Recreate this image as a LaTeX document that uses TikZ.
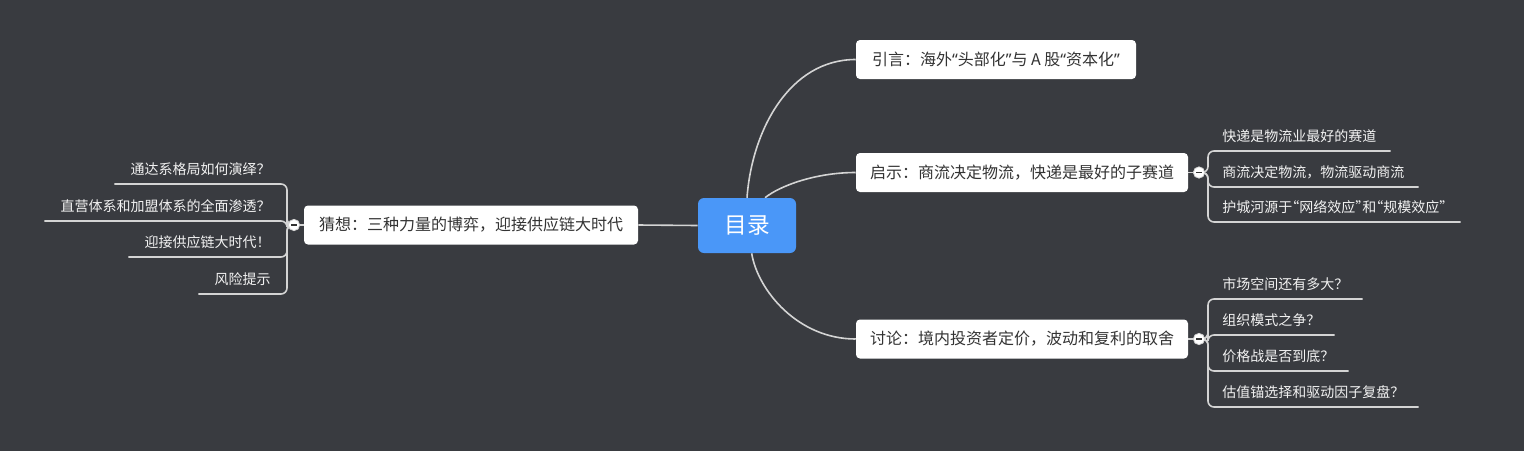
\documentclass[tikz,border=0pt]{standalone}
\usepackage{fontspec}
\setmainfont{Noto Sans CJK SC}
\newfontfamily\latq{Noto Sans}
\usetikzlibrary{backgrounds}
\definecolor{bgc}{HTML}{393B40}
\definecolor{rootblue}{HTML}{4A97F8}
\definecolor{linec}{HTML}{D4D4D4}
\definecolor{maintext}{HTML}{333333}
\definecolor{subtext}{HTML}{F2F2F2}
\newcommand{\cjklq}{\kern-5.25pt “}
\newcommand{\cjkrq}{”\kern-5.25pt }
\begin{document}
\begin{tikzpicture}[x=0.75pt,y=-0.75pt,
 branch/.style={draw=linec, line width=1.2pt, rounded corners=4.5pt},
 rootnode/.style={fill=rootblue, rounded corners=4.5pt, minimum width=73.5pt, minimum height=41.25pt, inner sep=0pt, text=white, font=\fontsize{17}{20}\selectfont},
 mainnode/.style={fill=white, rounded corners=3pt, minimum height=29.25pt, inner sep=0pt, text=maintext, font=\fontsize{12}{14}\selectfont, text height=10pt, text depth=1.5pt},
 subR/.style={anchor=south west, inner xsep=10.5pt, inner ysep=0pt, minimum height=21pt, text=subtext, font=\fontsize{10.5}{12}\selectfont, text height=8.8pt, text depth=1.2pt},
 subL/.style={subR, anchor=south east, inner xsep=12pt},
 fold/.style={circle, fill=white, draw=linec, line width=0.6pt, minimum size=8.5pt, inner sep=0pt, path picture={\draw[maintext, line width=1pt] ([xshift=-2.2pt]path picture bounding box.center) -- ([xshift=2.2pt]path picture bounding box.center);}}
]
\useasboundingbox (0,0) rectangle (1524,451);
% main nodes
\node[rootnode] (root) at (747,225.5) {目录};
\node[mainnode, minimum width=210pt] (n1) at (996,59.5) {引言：海外{\latq “}头部化{\latq ”}与 A 股{\latq “}资本化{\latq ”}};
\node[mainnode, minimum width=249pt] (n2) at (1022,172.5) {启示：商流决定物流，快递是最好的子赛道};
\node[mainnode, minimum width=249pt] (n3) at (1022,339) {讨论：境内投资者定价，波动和复利的取舍};
\node[mainnode, minimum width=250.5pt] (n4) at (471,225) {猜想：三种力量的博弈，迎接供应链大时代};
% fold markers
\node[fold] (f2) at (1199,172.5) {};
\node[fold] (f3) at (1199,339) {};
\node[fold] (f4) at (294,225) {};
% children
\node[subR] (a1) at (1208,151) {快递是物流业最好的赛道};
\node[subR] (a2) at (1208,187) {商流决定物流，物流驱动商流};
\node[subR] (a3) at (1208,222) {护城河源于\cjklq 网络效应\cjkrq 和\cjklq 规模效应\cjkrq};
\node[subR] (b1) at (1208,299) {市场空间还有多大？};
\node[subR] (b2) at (1208,335) {组织模式之争？};
\node[subR] (b3) at (1208,371) {价格战是否到底？};
\node[subR] (b4) at (1208,407) {估值锚选择和驱动因子复盘？};
\node[subL] (c1) at (287,184) {通达系格局如何演绎？};
\node[subL] (c2) at (287,221) {直营体系和加盟体系的全面渗透？};
\node[subL] (c3) at (287,257) {迎接供应链大时代！};
\node[subL] (c4) at (287,294) {风险提示};
\begin{scope}[on background layer]
\fill[bgc] (0,0) rectangle (1524,451);
\draw[branch] (root.west) -- (n4.east);
\draw[branch] (root.north) .. controls +(5,-68) and +(-66,0) .. (n1.west);
\draw[branch] ([xshift=13.5pt]root.north) .. controls +(15,-12) and +(-40,0) .. (n2.west);
\draw[branch] ([xshift=3.5pt]root.south) .. controls +(6,37) and +(-58,0) .. (n3.west);
\draw[branch] (n2.east) -- (f2.center);
\draw[branch] (n3.east) -- (f3.center);
\draw[branch] (n4.west) -- (f4.center);
\foreach \c in {a1,a2,a3} \draw[branch] (f2.center) -| (\c.south west) -- (\c.south east);
\foreach \c in {b1,b2,b3,b4} \draw[branch] (f3.center) -| (\c.south west) -- (\c.south east);
\foreach \c in {c1,c2,c3,c4} \draw[branch] (f4.center) -| (\c.south east) -- (\c.south west);
\end{scope}
\end{tikzpicture}
\end{document}
